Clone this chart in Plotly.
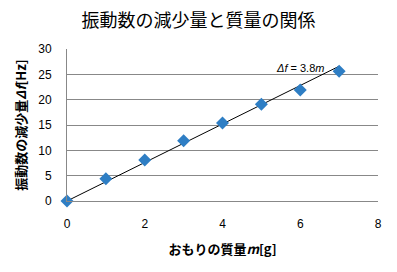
import plotly.graph_objects as go

mass = [0, 1, 2, 3, 4, 5, 6, 7]
delta_f = [0, 4.4, 8.1, 11.9, 15.4, 19.1, 21.9, 25.6]
slope = 3.8
fit_x = [0, 7]
fit_y = [slope * v for v in fit_x]
x_ticks = [0, 2, 4, 6, 8]
y_ticks = [0, 5, 10, 15, 20, 25, 30]

jp = "Noto Sans CJK JP"
fig = go.Figure()
fig.add_trace(go.Scatter(x=fit_x, y=fit_y, mode="lines", cliponaxis=False,
                         line=dict(color="black", width=1), showlegend=False))
fig.add_trace(go.Scatter(x=mass, y=delta_f, mode="markers", cliponaxis=False,
                         marker=dict(symbol="diamond", size=10, color="#2E7EC4"),
                         showlegend=False))
fig.add_annotation(x=6.0, y=26.2, xref="x", yref="y", showarrow=False,
                   text="<i>Δf</i> = 3.8<i>m</i>",
                   font=dict(family="Liberation Sans", size=11, color="black"))
fig.update_layout(
    width=397, height=272,
    margin=dict(l=67, r=19, t=49, b=71),
    paper_bgcolor="white", plot_bgcolor="white",
    title=dict(text="振動数の減少量と質量の関係", x=0.5, xanchor="center",
               y=0.925, yanchor="middle",
               font=dict(family=jp, size=18, color="black")),
    xaxis=dict(range=[0, 8], tickvals=x_ticks, showgrid=False, zeroline=False,
               showline=True, linecolor="#888", linewidth=1,
               ticks="", ticklabelstandoff=12,
               tickfont=dict(family="Liberation Sans", size=12, color="black"),
               title=dict(text="<b>おもりの質量<i>m</i>[g]</b>", standoff=14,
                          font=dict(family=jp, size=13, color="black"))),
    yaxis=dict(range=[0, 30], tickvals=y_ticks, showgrid=True, gridcolor="#888",
               gridwidth=1, zeroline=False, showline=True, linecolor="#888",
               linewidth=1, ticks="", ticklabelstandoff=12,
               tickfont=dict(family="Liberation Sans", size=12, color="black"),
               title=dict(text="<b>振動数の減少量<i>Δf</i>[Hz]</b>", standoff=8,
                          font=dict(family=jp, size=13, color="black"))),
)
fig.write_html("out.html")
